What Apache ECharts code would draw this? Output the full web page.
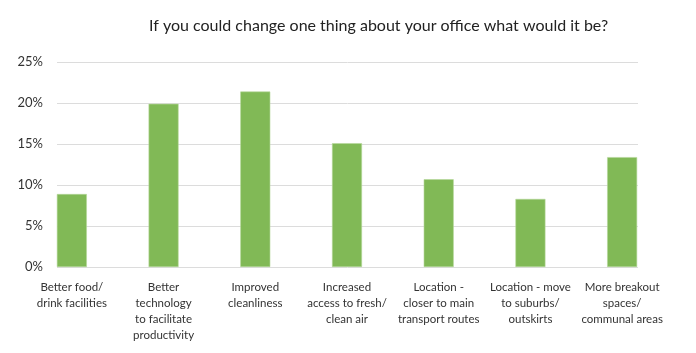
<!DOCTYPE html>
<html>
<head>
<meta charset="utf-8">
<script src="https://cdn.jsdelivr.net/npm/echarts@6/dist/echarts.min.js"></script>
<style>
  html, body { margin: 0; padding: 0; background: #fff; }
  #chart { width: 696px; height: 353px; }
</style>
</head>
<body>
<div id="chart"></div>
<script>
var titleText = 'If you could change one thing about your office what would it be?';
var categories = [
  'Better food/\ndrink facilities',
  'Better\ntechnology\nto facilitate\nproductivity',
  'Improved\ncleanliness',
  'Increased\naccess to fresh/\nclean air',
  'Location -\ncloser to main\ntransport routes',
  'Location - move\nto suburbs/\noutskirts',
  'More breakout\nspaces/\ncommunal areas'
];
var values = [8.9, 19.9, 21.4, 15.1, 10.7, 8.3, 13.4];
var yTicks = [0, 5, 10, 15, 20, 25];

var fontFam = 'Lato, "Open Sans", sans-serif';
var myChart = echarts.init(document.getElementById('chart'));

var options = {
  animation: false,
  title: {
    text: titleText,
    left: 144,
    top: 13,
    textStyle: { fontFamily: fontFam, fontSize: 16, fontWeight: 'normal', color: '#222' }
  },
  grid: [
    // y axis + gridlines
    { left: 57, right: 58, top: 62, bottom: 86 },
    // bars
    { left: 26, right: 28, top: 62, bottom: 86 }
  ],
  xAxis: [
    { gridIndex: 0, type: 'category', data: categories, show: false },
    {
      gridIndex: 1,
      type: 'category',
      data: categories,
      axisLine: { show: false },
      axisTick: { show: false },
      axisLabel: {
        interval: 0,
        margin: 12,
        fontFamily: fontFam,
        fontSize: 11.5,
        lineHeight: 16,
        color: '#333',
        align: 'center',
        verticalAlign: 'top'
      }
    }
  ],
  yAxis: [
    {
      gridIndex: 0,
      type: 'value',
      min: yTicks[0],
      max: yTicks[yTicks.length - 1],
      interval: 5,
      axisLine: { show: false },
      axisTick: { show: false },
      axisLabel: {
        margin: 14,
        fontFamily: fontFam,
        fontSize: 13,
        color: '#333',
        formatter: '{value}%'
      },
      splitLine: { lineStyle: { color: '#dcdcdc', width: 1 } }
    },
    {
      gridIndex: 1,
      type: 'value',
      min: yTicks[0],
      max: yTicks[yTicks.length - 1],
      interval: 5,
      show: false,
      splitLine: { show: false }
    }
  ],
  series: [{
    type: 'bar',
    xAxisIndex: 1,
    yAxisIndex: 1,
    data: values,
    barWidth: 30,
    itemStyle: { color: '#81b956', borderColor: '#b5d69a', borderWidth: 0.6 }
  }]
};

myChart.setOption(options, true);
</script>
</body>
</html>
